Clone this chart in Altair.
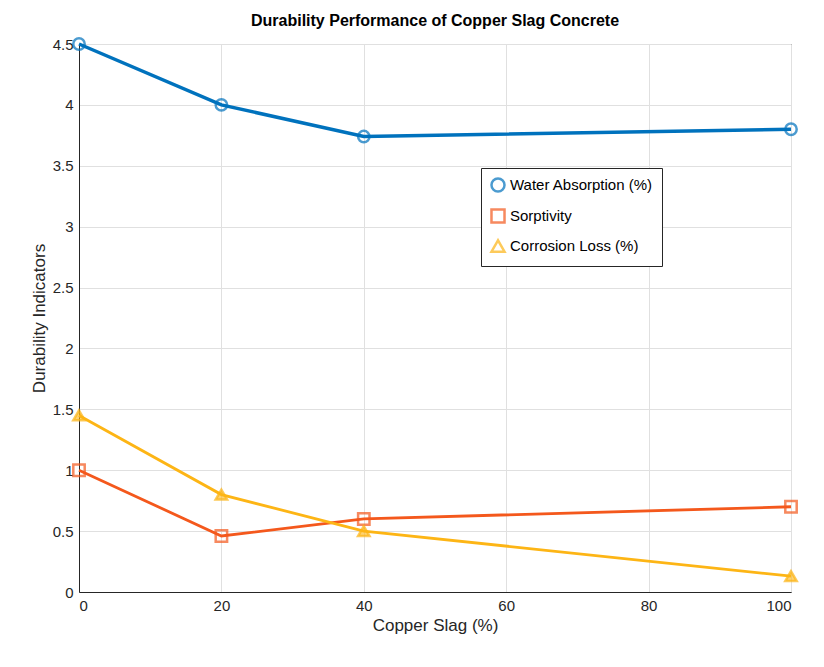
import pandas as pd
import altair as alt

copper_slag = [0, 20, 40, 100]
water_absorption = [4.5, 4.0, 3.74, 3.8]
sorptivity = [1.0, 0.46, 0.6, 0.7]
corrosion_loss = [1.45, 0.8, 0.5, 0.13]

series = ['Water Absorption (%)', 'Sorptivity', 'Corrosion Loss (%)']
colors = ['#0072BD', '#F4581C', '#FDB515']
shapes = ['circle', 'square', 'triangle-up']

rows = []
for name, vals in zip(series, [water_absorption, sorptivity, corrosion_loss]):
    for x, v in zip(copper_slag, vals):
        rows.append({'slag': x, 'value': v, 'series': name})
df = pd.DataFrame(rows)

x = alt.X('slag:Q', title='Copper Slag (%)', scale=alt.Scale(domain=[0, 100], nice=False),
          axis=alt.Axis(values=[0, 20, 40, 60, 80, 100]))
y = alt.Y('value:Q', title='Durability Indicators', scale=alt.Scale(domain=[0, 4.5], nice=False),
          axis=alt.Axis(values=[0, 0.5, 1, 1.5, 2, 2.5, 3, 3.5, 4, 4.5], labelExpr='datum.value + ""'))
color = alt.Color('series:N', scale=alt.Scale(domain=series, range=colors), sort=series,
                  legend=alt.Legend(title=None, orient='none', legendX=402, legendY=124,
                                    labelFontSize=15, symbolSize=170, symbolStrokeWidth=2.5,
                                    strokeColor='#262626', fillColor='white', padding=9,
                                    labelFont='Liberation Sans', rowPadding=7, labelLimit=300))
shape = alt.Shape('series:N', scale=alt.Scale(domain=series, range=shapes), sort=series, legend=None)

base = alt.Chart(df).encode(x=x, y=y, color=color)
lines = base.mark_line().encode(
    size=alt.condition("datum.series == 'Water Absorption (%)'", alt.value(3.5), alt.value(2.8)))
points = base.mark_point(filled=False, size=130, strokeWidth=2.5).encode(shape=shape)
tri = alt.Chart(df).transform_filter("datum.series == 'Corrosion Loss (%)'").mark_point(
    filled=True, size=130, shape='triangle-up', color='#FDB515', opacity=0.6).encode(x=x, y=y)

chart = (lines + points + tri).properties(
    width=712, height=548,
    padding={'left': 22, 'top': 5, 'right': 5, 'bottom': 5},
    title=alt.TitleParams('Durability Performance of Copper Slag Concrete', fontSize=16,
                          font='Liberation Sans', fontWeight='bold')
).configure_axis(
    labelFont='Liberation Sans', titleFont='Liberation Sans', labelFontSize=15, titleFontSize=17,
    titleFontWeight='normal', labelColor='#262626', titleColor='#262626',
    gridColor='#e0e0e0', domainColor='#262626', tickColor='#262626', tickSize=0, labelPadding=6
).configure_view(stroke='#262626', strokeWidth=1)

chart.save("out.html", embed_options={"renderer": "svg", "actions": False})
